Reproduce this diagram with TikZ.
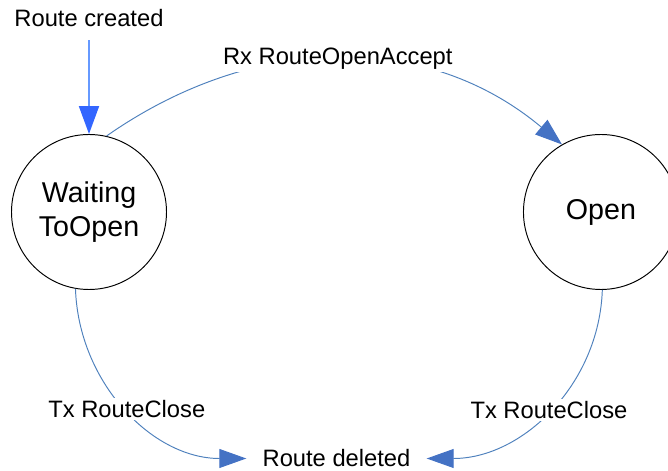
\documentclass[tikz,border=0pt]{standalone}
\usepackage{fontspec}
\setmainfont{Liberation Sans}
\usetikzlibrary{positioning,arrows.meta}
\definecolor{arcblue}{RGB}{79,129,189}
\definecolor{headblue}{RGB}{68,114,196}
\definecolor{startline}{RGB}{102,153,255}
\definecolor{starthead}{RGB}{51,102,255}

\begin{document}
\begin{tikzpicture}[
        state/.style={draw, circle, line width=0.55pt, minimum size=3.1cm, inner sep=0pt, align=center, font=\fontsize{16.3}{19.3}\selectfont},
        event/.style={font=\fontsize{13.5}{16}\selectfont, inner sep=1.5pt},
        trans/.style={draw=arcblue, line width=0.55pt, -{Triangle[length=0.54cm, width=0.38cm, color=headblue]}},
        startarrow/.style={draw=startline, line width=1.1pt, shorten <=0.2cm, -{Triangle[length=0.56cm, width=0.4cm, color=starthead]}}
    ]
        \useasboundingbox (0,0) rectangle (13.36,-9.42);
        \node (wait) [state] at (1.78,-4.24) {Waiting\\ToOpen};
        \node (open) [state, right=7.12cm of wait] {Open};
        \node (created) [event, above=2.08cm of wait] {Route created};
        \node (deleted) [event, inner xsep=0.32cm] at (6.73,-9.17) {Route deleted};
        \draw[startarrow] (created) -- (wait);
        \draw[trans] (wait.77) to[out=35, in=140] node[event, fill=white] {Rx RouteOpenAccept} (open.120);
        \draw[trans] (wait.260) to[out=-88, in=180] node[event, fill=white] {Tx RouteClose} (deleted.west);
        \draw[trans] (open.271) to[out=-92, in=0] node[event, fill=white] {Tx RouteClose} (deleted.east);
    \end{tikzpicture}
\end{document}
